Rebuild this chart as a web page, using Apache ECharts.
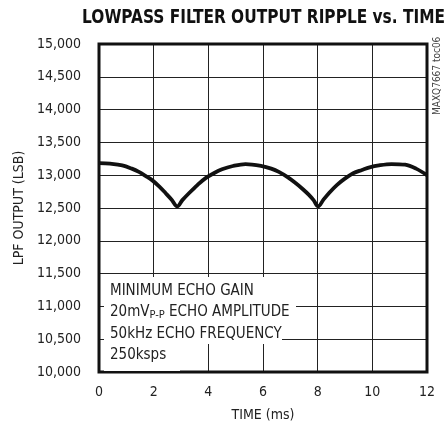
<!DOCTYPE html>
<html><head><meta charset="utf-8">
<script src="https://cdn.jsdelivr.net/npm/echarts@6/dist/echarts.min.js"></script>
<style>html,body{margin:0;padding:0;background:#fff}#c{width:448px;height:431px}</style>
</head><body><div id="c"></div>
<script>
const titleText = 'LOWPASS FILTER OUTPUT RIPPLE vs. TIME';
const xName = 'TIME (ms)';
const yName = 'LPF OUTPUT (LSB)';
const timeMs = [0, 0.4, 0.85, 1.2, 1.46, 1.7, 1.94, 2.2, 2.44, 2.65, 2.86, 3.05, 3.29, 3.6, 3.9, 4.2, 4.5, 4.9, 5.36, 5.96, 6.3, 6.58, 6.9, 7.19, 7.45, 7.68, 7.85, 8.02, 8.2, 8.41, 8.7, 9.02, 9.3, 9.62, 9.9, 10.24, 10.7, 11.2, 11.6, 12];
const lpfOut = [13185, 13175, 13150, 13100, 13050, 12990, 12925, 12830, 12725, 12630, 12525, 12620, 12725, 12850, 12955, 13030, 13090, 13140, 13170, 13140, 13100, 13050, 12970, 12880, 12790, 12700, 12620, 12525, 12620, 12725, 12850, 12955, 13030, 13080, 13120, 13150, 13170, 13160, 13100, 13000];
const notes = ['MINIMUM ECHO GAIN', '20mV{s|P-P} ECHO AMPLITUDE', '50kHz ECHO FREQUENCY', '250ksps'];
const noteRight = [296, 296, 282, 180];
const watermark = 'MAXQ7667 toc06';

const FONT = '"Liberation Sans Narrow","DejaVu Sans Condensed","Arial Narrow",sans-serif';
const chart = echarts.init(document.getElementById('c'));
const gridL = 99, gridT = 44, gridR = 21, gridB = 59;
const graphics = [];
const boxTops = [277, 301, 323, 344];
const boxBottoms = [301, 323, 344, 371];
const textCenters = [291, 312.5, 334, 355.5];
notes.forEach((t, i) => {
  graphics.push({type: 'rect', z: 50, shape: {x: 104, y: boxTops[i], width: noteRight[i] - 104, height: boxBottoms[i] - boxTops[i]}, style: {fill: '#fff'}});
  graphics.push({type: 'text', z: 51, x: 110, y: textCenters[i],
    style: {text: t, font: '15px ' + FONT, fill: '#222', verticalAlign: 'middle',
      rich: {s: {fontSize: 11, fontFamily: FONT, fill: '#222', padding: [6, 0, 0, 0]}}}});
});
graphics.push({type: 'text', z: 60, x: 437, y: 115, rotation: Math.PI / 2,
  style: {text: watermark, font: '10px ' + FONT, fill: '#444', align: 'left', verticalAlign: 'middle'}});
graphics.push({type: 'text', z: 60, x: 445, y: 18, scaleX: 0.9,
  style: {text: titleText, font: 'bold 19px ' + FONT, fill: '#111', align: 'right', verticalAlign: 'middle'}});

chart.setOption({
  animation: false,
  grid: {left: gridL, right: gridR, top: gridT, bottom: gridB, show: true, borderColor: '#111', borderWidth: 3, z: 10},
  xAxis: {type: 'value', min: 0, max: 12, interval: 2,
    name: xName, nameLocation: 'middle', nameGap: 36,
    nameTextStyle: {fontFamily: FONT, fontSize: 14, color: '#222'},
    axisLine: {show: false}, axisTick: {show: false},
    axisLabel: {margin: 13, fontFamily: FONT, fontSize: 14, color: '#222'},
    splitLine: {show: true, lineStyle: {color: '#222', width: 1}}},
  yAxis: {type: 'value', min: 10000, max: 15000, interval: 500,
    name: yName, nameLocation: 'middle', nameGap: 72,
    nameTextStyle: {fontFamily: FONT, fontSize: 14, color: '#222'},
    axisLine: {show: false}, axisTick: {show: false},
    axisLabel: {margin: 18, fontFamily: FONT, fontSize: 14, color: '#222',
      formatter: v => v.toLocaleString('en-US')},
    splitLine: {show: true, lineStyle: {color: '#222', width: 1}}},
  series: [{type: 'line', data: timeMs.map((t, i) => [t, lpfOut[i]]), showSymbol: false, smooth: 0.35,
    lineStyle: {color: '#111', width: 3.8}, z: 20}],
  graphic: graphics
});
</script></body></html>
